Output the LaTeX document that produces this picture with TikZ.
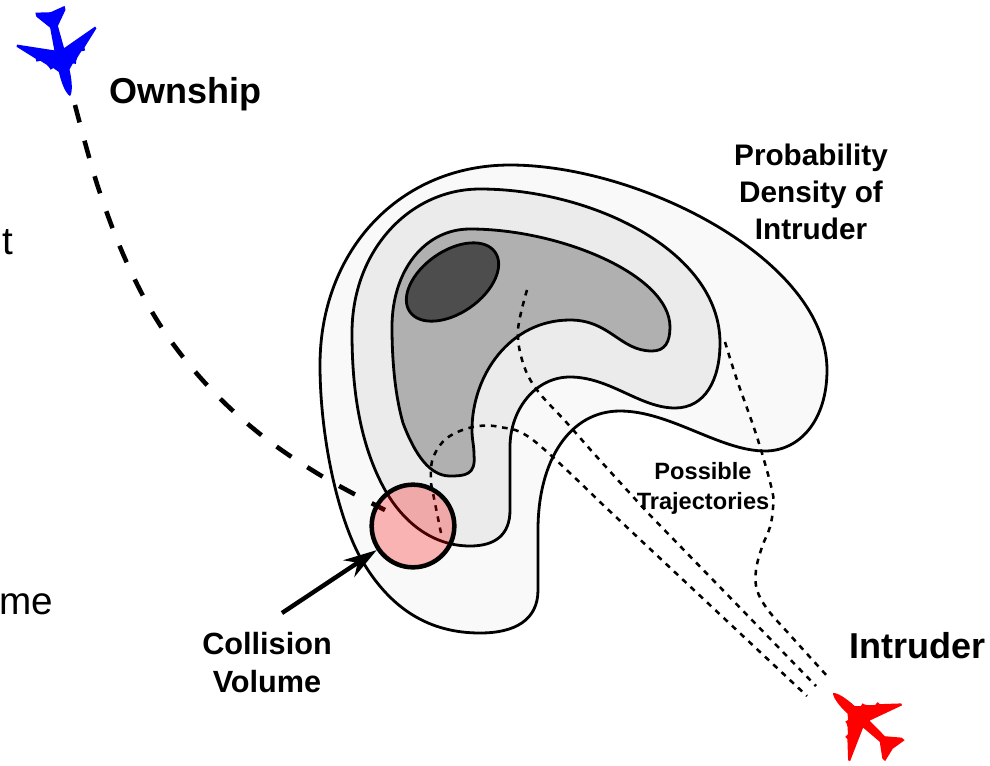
\documentclass[tikz,border=0pt]{standalone}
\usepackage{fontspec}
\setmainfont{Liberation Sans}
\usetikzlibrary{arrows.meta}
\definecolor{levela}{HTML}{F9F9F9}
\definecolor{levelb}{HTML}{EBEBEB}
\definecolor{levelc}{HTML}{B0B0B0}
\definecolor{leveld}{HTML}{4D4D4D}
\newcommand{\planeshape}{(0,0) .. controls (3,-3.5) and (14,-5.5) .. (26,-5.5) -- (31,-10) -- (30,-13) -- (33,-14) -- (36,-16) -- (41,-21) -- (41,-25) -- (44,-25) -- (60,-41) -- (62,-40) -- (48,-5) -- (71,-4) -- (85,-15) -- (89,-15) -- (86,0) -- (89,15) -- (85,15) -- (71,4) -- (48,5) -- (62,40) -- (60,41) -- (44,25) -- (41,25) -- (41,21) -- (36,16) -- (33,14) -- (30,13) -- (31,10) -- (26,5.5) .. controls (14,5.5) and (3,3.5) .. (0,0) -- cycle}
\tikzset{
	density/.style={draw=black, line width=2.1pt},
	bigtext/.style={font=\bfseries\fontsize{27}{30}\selectfont, inner sep=0pt},
	midtext/.style={font=\bfseries\fontsize{22.3}{27.9}\selectfont, inner sep=0pt, align=center},
	calltext/.style={font=\bfseries\fontsize{23}{28.5}\selectfont, inner sep=0pt, align=center},
	smalltext/.style={font=\bfseries\fontsize{17.7}{22.5}\selectfont, inner sep=0pt, align=center},
	cuttext/.style={font=\fontsize{29}{32}\selectfont, inner sep=0pt, anchor=base east},
	ownpath/.style={line width=3.4pt, dash pattern=on 13.5pt off 14.2pt},
	trajectory/.style={line width=1.9pt, dash pattern=on 4.2pt off 4.3pt},
}
\begin{document}
\begin{tikzpicture}[x=0.75pt, y=-0.75pt, >={Stealth[length=25pt, width=15pt, inset=8pt]}]
	\useasboundingbox (0,0) rectangle (990,765);

	\filldraw[density, fill=levela] (320,365) .. controls (320,250) and (400,165) .. (510,165) .. controls (640,165) and (827,260) .. (827,370) .. controls (827,420) and (800,451) .. (765,451) .. controls (720,451) and (670,411) .. (620,411) .. controls (570,411) and (538,460) .. (538,530) .. controls (538,550) and (538,570) .. (538,590) .. controls (538,620) and (515,633) .. (480,633) .. controls (430,633) and (390,610) .. (360,557) .. controls (335,510) and (320,430) .. (320,365) -- cycle;
	\filldraw[density, fill=levelb] (352,333) .. controls (352,250) and (410,189) .. (480,189) .. controls (590,189) and (720,250) .. (720,343) .. controls (720,380) and (705,408) .. (675,408) .. controls (640,408) and (610,377) .. (570,377) .. controls (535,377) and (510,410) .. (510,447) .. controls (510,470) and (510,490) .. (510,510) .. controls (510,535) and (495,546) .. (470,546) .. controls (435,546) and (405,525) .. (385,490) .. controls (360,445) and (352,390) .. (352,333) -- cycle;
	\filldraw[density, fill=levelc] (392,327) .. controls (392,270) and (425,229) .. (470,229) .. controls (560,229) and (670,275) .. (670,327) .. controls (670,342) and (665,351) .. (652,351) .. controls (620,351) and (610,320) .. (570,320) .. controls (510,320) and (472,375) .. (472,430) .. controls (472,440) and (474,445) .. (474,455) .. controls (476,475) and (465,476) .. (450,476) .. controls (430,476) and (415,455) .. (403,423) .. controls (395,395) and (392,360) .. (392,327) -- cycle;
	\filldraw[density, fill=leveld] (452.5,282) ellipse [x radius=52, y radius=31, rotate=35];

	\draw[trajectory] plot[smooth, tension=0.6] coordinates {(441,533) (433,493) (431,480) (433,458) (447,438) (473,427) (500,427) (533,440) (600,502)} -- (807,696);
	\draw[trajectory] plot[smooth, tension=0.6] coordinates {(527,290) (518,330) (523,363) (537,390) (567,423) (597,457) (647,512)} -- (816,686);
	\draw[trajectory] plot[smooth, tension=0.6] coordinates {(725,342) (737,380) (757,437) (772,490) (773,508) (770,527) (762,547) (756,570) (757,590) (768,610) (790,635) (828,677)};
	\draw[ownpath] plot[smooth, tension=0.6] coordinates {(75,105) (98,187) (127,263) (162,328) (207,385) (260,434) (320,475) (385,510)};

	\node[circle, draw=black, line width=3.4pt, fill=red, fill opacity=0.28, draw opacity=1, minimum size=62pt, inner sep=0pt] (collision) at (413,526) {};
	\coordinate (arrowstart) at (282,613);
	\draw[->, line width=3.3pt] (arrowstart) -- (collision);

	\begin{scope}[shift={(70,96)}, rotate=103]
		\fill[blue] \planeshape;
	\end{scope}
	\begin{scope}[shift={(833,693)}, rotate=-43, scale=0.95]
		\fill[red] \planeshape;
	\end{scope}

	\node[bigtext, anchor=west] (ownship) at (109,94) {Ownship};
	\node[bigtext, anchor=east] (intruder) at (986,646) {Intruder};
	\node[midtext] (density) at (811,192) {Probability\\Density of\\Intruder};
	\node[calltext] (volume) at (267,663) {Collision\\Volume};
	\node[smalltext] (possible) at (703,488) {Possible\\Trajectories};
	\node[cuttext] (cuta) at (14,254) {t};
	\node[cuttext] (cutb) at (53,614) {me};
\end{tikzpicture}
\end{document}
